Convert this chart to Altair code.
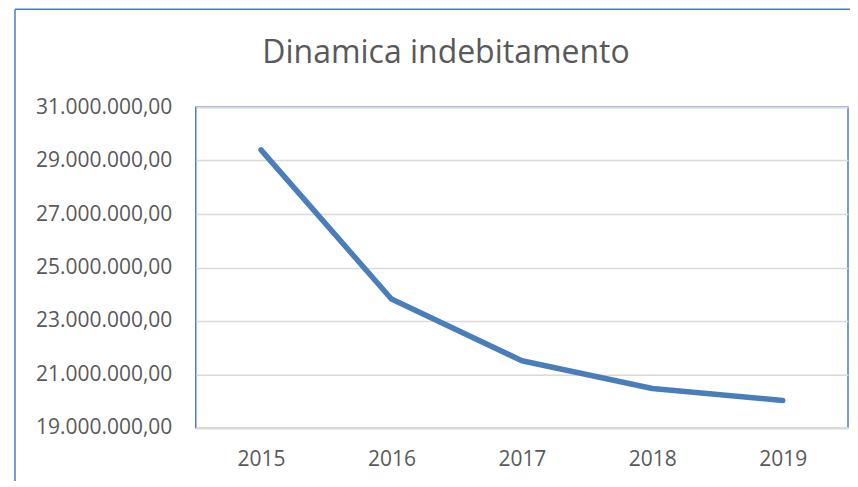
import altair as alt
import pandas as pd

title_text = "Dinamica indebitamento"
years = ["2015", "2016", "2017", "2018", "2019"]
debt = [29400000, 23820000, 21510000, 20470000, 20020000]
y_ticks = [19000000, 21000000, 23000000, 25000000, 27000000, 29000000, 31000000]

df = pd.DataFrame({"anno": years, "debito": debt})
frame_df = pd.DataFrame({"t": [title_text]})

TEXT = "#595959"
BLUE = "#4a7ebb"
FONT = "Open Sans"

line = alt.Chart(df).mark_line(color=BLUE, strokeWidth=5.5, strokeCap="round", strokeJoin="round").encode(
    x=alt.X("anno:N", sort=years, title=None,
            scale=alt.Scale(type="point", padding=0.5),
            axis=alt.Axis(labelAngle=0, labelFont=FONT, labelFontSize=21, labelColor=TEXT,
                          labelPadding=21, ticks=False, domainColor="#d9d9d9", domainWidth=2.5,
                          grid=False)),
    y=alt.Y("debito:Q", title=None,
            scale=alt.Scale(domain=[19000000, 31000000], nice=False, zero=False),
            axis=alt.Axis(values=y_ticks, format=",.2f", labelFont=FONT, labelFontSize=21,
                          labelColor=TEXT, labelPadding=24, ticks=False, domain=False,
                          gridColor="#d9d9d9", gridWidth=1.5)),
)

left_border = alt.Chart(frame_df).mark_rule(color=BLUE, strokeWidth=1.5).encode(
    x=alt.value(-181), y=alt.value(-98), y2=alt.value(400)
)
top_border = alt.Chart(frame_df).mark_rule(color=BLUE, strokeWidth=1.5).encode(
    x=alt.value(-181), x2=alt.value(700), y=alt.value(-98)
)
title = alt.Chart(frame_df).mark_text(
    font=FONT, fontSize=32, color=TEXT, align="center", baseline="alphabetic"
).encode(x=alt.value(250.5), y=alt.value(-44), text="t:N")

chart = alt.layer(left_border, top_border, title, line).properties(
    width=653, height=321,
    autosize=alt.AutoSizeParams(type="none"),
    padding={"left": 188, "top": 99, "right": 2, "bottom": 53},
).configure(
    locale={"number": {"decimal": ",", "thousands": ".", "grouping": [3], "currency": ["€", ""]}},
    view=alt.ViewConfig(stroke=BLUE, strokeWidth=1.5),
)

chart.save("out.html", embed_options={"renderer": "svg", "actions": False})
